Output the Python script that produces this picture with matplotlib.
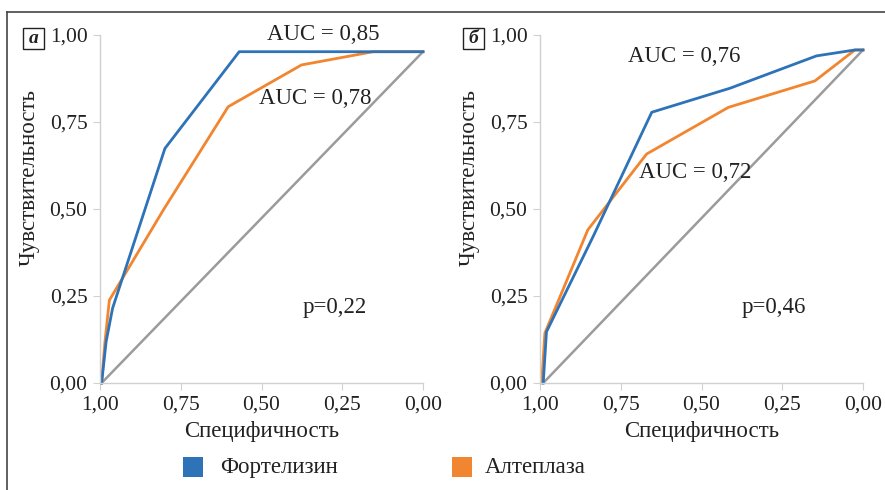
import matplotlib
matplotlib.use('Agg')
import matplotlib.pyplot as plt
from matplotlib.patches import Rectangle
from matplotlib.lines import Line2D

plt.rcParams['font.family'] = ['Liberation Serif', 'DejaVu Serif']

# панель а: специфичность (x) и чувствительность (y)
a_fort_x = [0.995, 0.981, 0.961, 0.799, 0.569, 0.0]
a_fort_y = [0.0, 0.119, 0.215, 0.674, 0.952, 0.952]
a_alt_x = [0.995, 0.985, 0.971, 0.804, 0.603, 0.376, 0.154, 0.0]
a_alt_y = [0.0, 0.115, 0.238, 0.497, 0.794, 0.914, 0.952, 0.952]
a_diag_x = [0.995, 0.0]
a_diag_y = [0.0, 0.952]

# панель б
b_fort_x = [0.99, 0.98, 0.836, 0.654, 0.412, 0.144, 0.025, 0.0]
b_fort_y = [0.0, 0.147, 0.42, 0.778, 0.847, 0.94, 0.957, 0.957]
b_alt_x = [0.995, 0.985, 0.852, 0.67, 0.417, 0.149, 0.025, 0.0]
b_alt_y = [0.0, 0.143, 0.44, 0.658, 0.792, 0.868, 0.957, 0.957]
b_diag_x = [0.99, 0.0]
b_diag_y = [0.0, 0.957]

ticks = [0.0, 0.25, 0.5, 0.75, 1.0]
tick_labels = ['0,00', '0,25', '0,50', '0,75', '1,00']

C_FORT = '#2E72B8'
C_ALT = '#F2852F'
C_DIAG = '#9B9B9B'
C_AX = '#D0D0D0'
FS_TICK = 15.5
FS = 16.5

W, H = 885, 490
fig = plt.figure(figsize=(W / 100, H / 100), dpi=100)


def fx(px):
    return px / W


def fy(py):
    return 1 - py / H


# рамка
fig.add_artist(Line2D([fx(7), 1.0], [fy(12), fy(12)], color='#444444', lw=1.2))
fig.add_artist(Line2D([fx(7), fx(7)], [fy(12), 0.0], color='#444444', lw=1.2))


def panel(x0, fort, alt, diag, letter, auc_texts, p_text):
    ax = fig.add_axes([fx(x0), fy(383), fx(323), 348 / H])
    ax.plot(diag[0], diag[1], color=C_DIAG, lw=1.8, clip_on=False)
    ax.plot(alt[0], alt[1], color=C_ALT, lw=2.0, clip_on=False)
    ax.plot(fort[0], fort[1], color=C_FORT, lw=2.0, clip_on=False)
    ax.set_xlim(1.0, 0.0)
    ax.set_ylim(0.0, 1.0)
    ax.set_xticks(ticks, tick_labels)
    ax.set_yticks(ticks, tick_labels)
    for s in ['top', 'right']:
        ax.spines[s].set_visible(False)
    for s in ['left', 'bottom']:
        ax.spines[s].set_color(C_AX)
        ax.spines[s].set_linewidth(1.0)
    ax.tick_params(colors=C_AX, labelcolor='#222222', labelsize=FS_TICK, length=5, pad=4)
    ax.set_xlabel('Специфичность', fontsize=FS, color='#222222')
    ax.set_ylabel('Чувствительность', fontsize=FS, color='#222222')
    ax.xaxis.set_label_coords(0.5, -38 / 348, transform=ax.transAxes)
    ax.yaxis.set_label_coords(-60 / 323, (383 - 177) / 348, transform=ax.transAxes)
    # буква панели
    bx, by = x0 - 77, 28
    fig.add_artist(Rectangle((fx(bx), fy(by + 21)), fx(21), 21 / H, fill=False,
                             ec='#222222', lw=1.0))
    fig.text(fx(bx + 10.5), fy(by + 10.5), letter, ha='center', va='center',
             fontsize=14, fontweight='bold', style='italic', color='#222222')
    for (tx, ty, t) in auc_texts:
        fig.text(fx(tx), fy(ty), t, ha='left', va='center', fontsize=FS, color='#222222')
    fig.text(fx(p_text[0]), fy(p_text[1]), p_text[2], ha='left', va='center',
             fontsize=FS, color='#222222')
    return ax


panel(100, (a_fort_x, a_fort_y), (a_alt_x, a_alt_y), (a_diag_x, a_diag_y), 'а',
      [(267, 35, 'AUC = 0,85'), (259, 99, 'AUC = 0,78')], (303, 307, 'p=0,22'))
panel(540, (b_fort_x, b_fort_y), (b_alt_x, b_alt_y), (b_diag_x, b_diag_y), 'б',
      [(628, 57, 'AUC = 0,76'), (639, 172, 'AUC = 0,72')], (742, 308, 'p=0,46'))

# легенда
fig.add_artist(Rectangle((fx(183), fy(477)), fx(20), 20 / H, fc=C_FORT, ec='none'))
fig.text(fx(220), fy(467), 'Фортелизин', ha='left', va='center', fontsize=FS, color='#222222')
fig.add_artist(Rectangle((fx(452), fy(477)), fx(20), 20 / H, fc=C_ALT, ec='none'))
fig.text(fx(485), fy(467), 'Алтеплаза', ha='left', va='center', fontsize=FS, color='#222222')

fig.savefig('out.png', dpi=100)
